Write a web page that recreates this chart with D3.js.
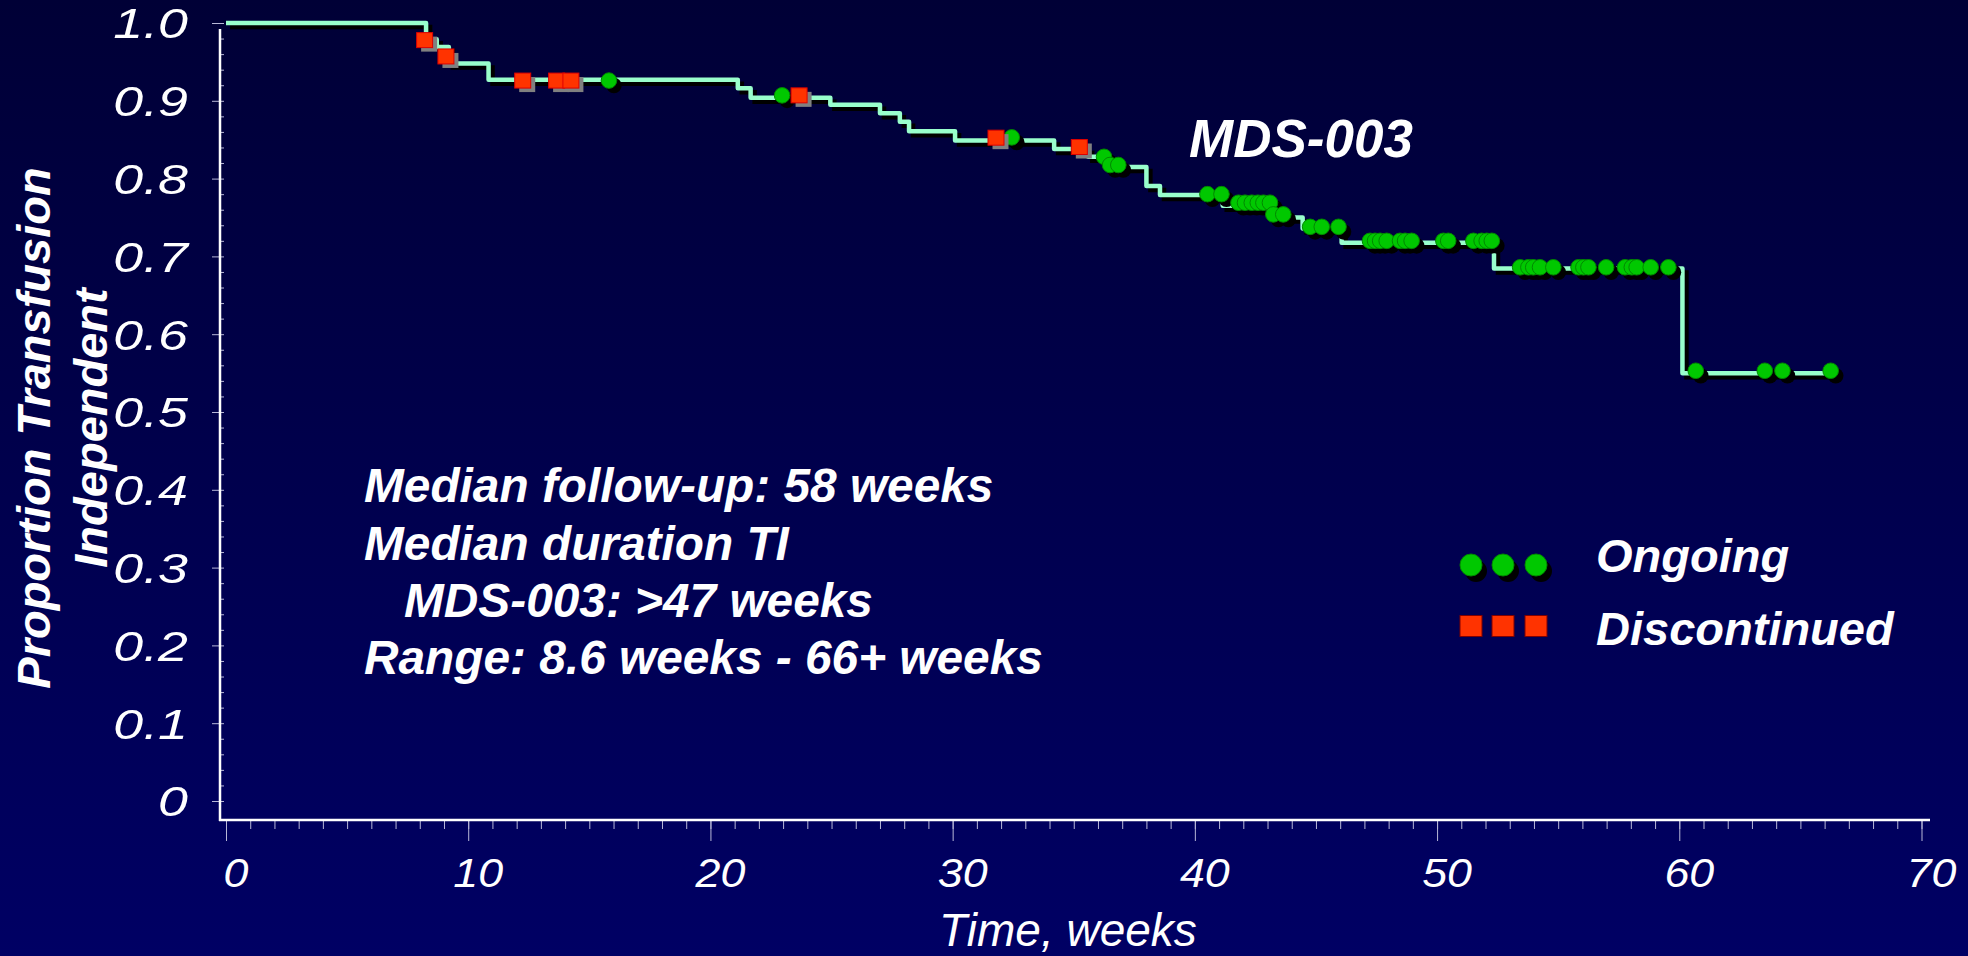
<!DOCTYPE html>
<html><head><meta charset="utf-8">
<script src="https://cdn.jsdelivr.net/npm/d3@7"></script>
<style>html,body{margin:0;padding:0;background:#000040;overflow:hidden}svg{display:block}</style>
</head><body>
<svg id="chart" width="1968" height="956"></svg>
<script>
// Kaplan-Meier step curve (time in weeks, proportion after step)
const kmTimes  = [0, 8.26, 8.7, 9.2, 10.84, 21.13, 21.66, 24.95, 27.0, 27.82, 28.2, 30.1, 34.19, 35.6, 36.3, 38.0, 38.56, 41.15, 43.15, 44.45, 46.06, 52.35, 60.13, 66.35];
const kmValues = [1.0, 0.979, 0.969, 0.948, 0.927, 0.916, 0.904, 0.895, 0.884, 0.873, 0.861, 0.849, 0.838, 0.828, 0.815, 0.7905, 0.779, 0.765, 0.750, 0.736, 0.7176, 0.6845, 0.5497, 0.5497];

// Censored – ongoing (green circles)
const ongoingTimes  = [15.81, 22.96, 32.44, 36.25, 36.5, 36.84, 40.52, 41.1,
  41.8, 42.07, 42.35, 42.6, 42.83, 43.1, 43.24, 43.65, 44.76, 45.24, 45.93,
  47.23, 47.44, 47.65, 47.92, 48.47, 48.68, 48.95, 50.26, 50.46, 51.5, 51.84, 52.05, 52.26,
  53.43, 53.77, 53.97, 54.25, 54.8, 55.84, 56.04, 56.25, 56.98, 57.76, 58.04, 58.24, 58.82, 59.55,
  60.68, 63.53, 64.26, 66.25];
const ongoingValues = [0.926, 0.907, 0.853, 0.828, 0.8175, 0.8175, 0.780, 0.780,
  0.769, 0.769, 0.769, 0.769, 0.769, 0.769, 0.754, 0.754, 0.738, 0.738, 0.738,
  0.720, 0.720, 0.720, 0.720, 0.720, 0.720, 0.720, 0.720, 0.720, 0.720, 0.720, 0.720, 0.720,
  0.686, 0.686, 0.686, 0.686, 0.686, 0.686, 0.686, 0.686, 0.686, 0.686, 0.686, 0.686, 0.686, 0.686,
  0.553, 0.553, 0.553, 0.553];

// Discontinued (red squares)
const discTimes  = [8.2, 9.08, 12.25, 13.65, 14.24, 23.66, 31.79, 35.23];
const discValues = [0.978, 0.957, 0.926, 0.926, 0.926, 0.907, 0.8526, 0.8406];

const xTicks = [0, 10, 20, 30, 40, 50, 60, 70];
const yTicks = [0, 0.1, 0.2, 0.3, 0.4, 0.5, 0.6, 0.7, 0.8, 0.9, 1.0];
const yTickLabels = ["0", "0.1", "0.2", "0.3", "0.4", "0.5", "0.6", "0.7", "0.8", "0.9", "1.0"];

const title = "MDS-003";
const xTitle = "Time, weeks";
const yTitleLines = ["Proportion Transfusion", "Independent"];
const notes = ["Median follow-up: 58 weeks", "Median duration TI", "MDS-003: >47 weeks", "Range: 8.6 weeks - 66+ weeks"];
const legendLabels = ["Ongoing", "Discontinued"];

const FONT = '"Liberation Sans", Arial, sans-serif';
const svg = d3.select('#chart');
const defs = svg.append('defs');
const grad = defs.append('linearGradient').attr('id', 'bg').attr('x1', 0).attr('y1', 0).attr('x2', 0).attr('y2', 1);
grad.append('stop').attr('offset', '0%').attr('stop-color', '#000036');
grad.append('stop').attr('offset', '100%').attr('stop-color', '#000064');
svg.append('rect').attr('width', 1968).attr('height', 956).attr('fill', 'url(#bg)');

const x = d3.scaleLinear().domain([0, 70]).range([226, 1921.5]);
const y = d3.scaleLinear().domain([0, 1]).range([801, 23]);
const axisY0 = 820, axisX0 = 220;
const tickColor = '#b8b8d8';

function styleAxis(g) {
  g.select('.domain').remove();
  g.selectAll('line').attr('stroke', tickColor).attr('stroke-width', 1);
}
// x ticks
svg.append('g').attr('transform', `translate(0,${axisY0})`)
  .call(d3.axisBottom(x).tickValues(d3.range(0, 71, 1)).tickSize(9).tickFormat(''))
  .call(styleAxis);
svg.append('g').attr('transform', `translate(0,${axisY0})`)
  .call(d3.axisBottom(x).tickValues(xTicks).tickSize(21).tickFormat(''))
  .call(styleAxis);
// y ticks
svg.append('g').attr('transform', `translate(${axisX0},0)`)
  .call(d3.axisRight(y).tickValues(d3.range(0, 51, 1).map(i => i * 0.02)).tickSize(4).tickFormat(''))
  .call(styleAxis);
svg.append('g').attr('transform', `translate(${axisX0},0)`)
  .call(d3.axisLeft(y).tickValues(yTicks).tickSize(8).tickFormat(''))
  .call(styleAxis);

// axis lines
svg.append('line').attr('x1', axisX0).attr('x2', axisX0).attr('y1', 29).attr('y2', axisY0 + 1)
  .attr('stroke', '#ffffff').attr('stroke-width', 2.5);
svg.append('line').attr('x1', axisX0 - 1).attr('x2', 1930).attr('y1', axisY0).attr('y2', axisY0)
  .attr('stroke', '#ffffff').attr('stroke-width', 2.5);

// tick labels
svg.append('g').selectAll('g').data(yTicks).join('g')
  .attr('transform', d => `translate(188,${y(d)})`)
  .append('text').attr('transform', 'scale(1.25,1)')
  .attr('text-anchor', 'end').attr('dy', '0.36em')
  .attr('font-family', FONT).attr('font-style', 'italic').attr('font-size', 43)
  .attr('fill', '#ffffff').text((d, i) => yTickLabels[i]);

svg.append('g').selectAll('g').data(xTicks).join('g')
  .attr('transform', d => `translate(${x(d) + 10},887)`)
  .append('text').attr('transform', 'scale(1.12,1)')
  .attr('text-anchor', 'middle')
  .attr('font-family', FONT).attr('font-style', 'italic').attr('font-size', 40)
  .attr('fill', '#ffffff').text(d => d);

// axis titles
svg.append('text').attr('x', 1068).attr('y', 946).attr('text-anchor', 'middle')
  .attr('font-family', FONT).attr('font-style', 'italic').attr('font-size', 46)
  .attr('fill', '#ffffff').text(xTitle);
const yt = svg.append('g');
[50, 107].forEach((bx, i) => {
  yt.append('text').attr('transform', `translate(${bx},428) rotate(-90)`)
    .attr('text-anchor', 'middle')
    .attr('font-family', FONT).attr('font-style', 'italic').attr('font-weight', 'bold').attr('font-size', 47)
    .attr('fill', '#ffffff').text(yTitleLines[i]);
});

// KM curve
const kmData = kmTimes.map((t, i) => [t, kmValues[i]]);
const line = d3.line().x(d => x(d[0])).y(d => y(d[1])).curve(d3.curveStepAfter);
svg.append('path').datum(kmData).attr('d', line).attr('fill', 'none')
  .attr('stroke', '#000000').attr('stroke-width', 4.5).attr('transform', 'translate(4,4)');
svg.append('path').datum(kmData).attr('d', line).attr('fill', 'none')
  .attr('stroke', '#99ffcc').attr('stroke-width', 4.5).attr('stroke-linejoin', 'round');

// ongoing circles
const ong = ongoingTimes.map((t, i) => [t, ongoingValues[i]]);
const og = svg.append('g');
ong.forEach(d => {
  og.append('circle').attr('cx', x(d[0]) + 5).attr('cy', y(d[1]) + 5).attr('r', 7.8).attr('fill', '#000000');
  og.append('circle').attr('cx', x(d[0])).attr('cy', y(d[1])).attr('r', 7.8)
    .attr('fill', '#00c800').attr('stroke', '#008800').attr('stroke-width', 1);
});
// discontinued squares
const dis = discTimes.map((t, i) => [t, discValues[i]]);
const dg = svg.append('g');
dis.forEach(d => {
  dg.append('rect').attr('x', x(d[0]) - 8 + 4.5).attr('y', y(d[1]) - 7.5 + 4).attr('width', 16).attr('height', 15).attr('fill', '#808080');
  dg.append('rect').attr('x', x(d[0]) - 8).attr('y', y(d[1]) - 7.5).attr('width', 16).attr('height', 15)
    .attr('fill', '#ff3300').attr('stroke', '#dd0000').attr('stroke-width', 1);
});

// title
svg.append('text').attr('x', 1189).attr('y', 157)
  .attr('font-family', FONT).attr('font-style', 'italic').attr('font-weight', 'bold').attr('font-size', 53)
  .attr('fill', '#ffffff').text(title);

// notes
const noteX = [364, 364, 404, 364], noteY = [502, 560, 617, 674];
notes.forEach((s, i) => {
  svg.append('text').attr('x', noteX[i]).attr('y', noteY[i])
    .attr('font-family', FONT).attr('font-style', 'italic').attr('font-weight', 'bold').attr('font-size', 47.8)
    .attr('fill', '#ffffff').text(s);
});

// legend
const lg = svg.append('g');
[1471, 1503, 1536].forEach(cx => {
  lg.append('circle').attr('cx', cx + 5).attr('cy', 565 + 6).attr('r', 11).attr('fill', '#000000');
});
[1471, 1503, 1536].forEach(cx => {
  lg.append('circle').attr('cx', cx).attr('cy', 565).attr('r', 11)
    .attr('fill', '#00c800').attr('stroke', '#008800').attr('stroke-width', 1);
  lg.append('rect').attr('x', cx - 11).attr('y', 626 - 10.5).attr('width', 22).attr('height', 21)
    .attr('fill', '#ff3300').attr('stroke', '#800000').attr('stroke-width', 1);
});
[572, 645].forEach((by, i) => {
  lg.append('text').attr('x', 1596).attr('y', by)
    .attr('font-family', FONT).attr('font-style', 'italic').attr('font-weight', 'bold').attr('font-size', 47)
    .attr('fill', '#ffffff').text(legendLabels[i]);
});
</script>
</body></html>
